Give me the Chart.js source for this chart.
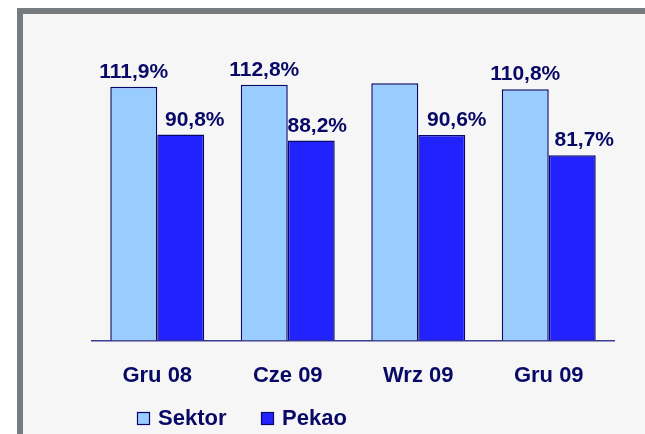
<!DOCTYPE html>
<html>
<head>
<meta charset="utf-8">
<script src="https://cdn.jsdelivr.net/npm/chart.js@4"></script>
<style>
  html, body { margin: 0; background: #ffffff; width: 645px; height: 434px; overflow: hidden; }
  body { position: relative; }
  #frame { position: absolute; left: 17px; top: 8px; width: 700px; height: 500px;
           border-left: 6px solid #777c80; border-top: 6px solid #777c80; background: #f6f6f6; }
  #wrap { position: absolute; left: 0; top: 0; width: 645px; height: 434px; }
</style>
</head>
<body>
<div id="frame"></div>
<div id="wrap"><canvas id="chart" width="645" height="434"></canvas></div>
<script>
// data
var categories = ["Gru 08", "Cze 09", "Wrz 09", "Gru 09"];
var sektor = [111.9, 112.8, 113.4, 110.8];
var pekao = [90.8, 88.2, 90.6, 81.7];
var sektorLabels = ["111,9%", "112,8%", "", "110,8%"];
var pekaoLabels = ["90,8%", "88,2%", "90,6%", "81,7%"];
var seriesNames = ["Sektor", "Pekao"];

var navy = "#080866";
var fontName = "'Liberation Sans', Arial, sans-serif";

// value labels above bars
var valueLabels = {
  id: "valueLabels",
  afterDatasetsDraw: function(chart) {
    var ctx = chart.ctx;
    var texts = [sektorLabels, pekaoLabels];
    var shift = [[0, 0, 0, 0], [14, 6, 15, 12]];
    ctx.save();
    ctx.font = "bold 21px " + fontName;
    ctx.fillStyle = navy;
    ctx.textAlign = "center";
    ctx.textBaseline = "alphabetic";
    for (var d = 0; d < 2; d++) {
      chart.getDatasetMeta(d).data.forEach(function(bar, i) {
        if (!texts[d][i]) return;
        ctx.fillText(texts[d][i], bar.x + shift[d][i], bar.y - 9);
      });
    }
    ctx.restore();
  }
};

// legend drawn at bottom left like the original slide
var slideLegend = {
  id: "slideLegend",
  afterDraw: function(chart) {
    var ctx = chart.ctx;
    var xs = [137, 261];
    ctx.save();
    ctx.font = "bold 22px " + fontName;
    ctx.textBaseline = "middle";
    chart.data.datasets.forEach(function(ds, i) {
      ctx.fillStyle = ds.backgroundColor;
      ctx.fillRect(xs[i], 412, 13, 13);
      ctx.strokeStyle = navy;
      ctx.lineWidth = 1.2;
      ctx.strokeRect(xs[i] + 0.5, 412.5, 12, 12);
      ctx.fillStyle = navy;
      ctx.fillText(ds.label, xs[i] + 21, 419);
    });
    ctx.restore();
  }
};

const myChart = new Chart("chart", {
  type: "bar",
  data: {
    labels: categories,
    datasets: [{
      label: seriesNames[0],
      data: sektor,
      backgroundColor: "#99ccff",
      borderColor: navy,
      borderWidth: 1.5
    }, {
      label: seriesNames[1],
      data: pekao,
      backgroundColor: "#2222ff",
      borderColor: navy,
      borderWidth: 1.5
    }]
  },
  options: {
    responsive: false,
    animation: false,
    layout: { padding: { left: 92, right: 31, top: 23, bottom: 23 } },
    categoryPercentage: 0.72,
    barPercentage: 1.0,
    plugins: {
      legend: { display: false },
      tooltip: { enabled: false }
    },
    scales: {
      x: {
        grid: { display: false, drawTicks: false },
        border: { display: true, color: "#3c3c8c", width: 1.5 },
        ticks: { color: navy, padding: 22, font: { family: fontName, size: 22, weight: "bold" } }
      },
      y: {
        display: false,
        min: 0,
        max: 140
      }
    }
  },
  plugins: [valueLabels, slideLegend]
});
</script>
</body>
</html>
